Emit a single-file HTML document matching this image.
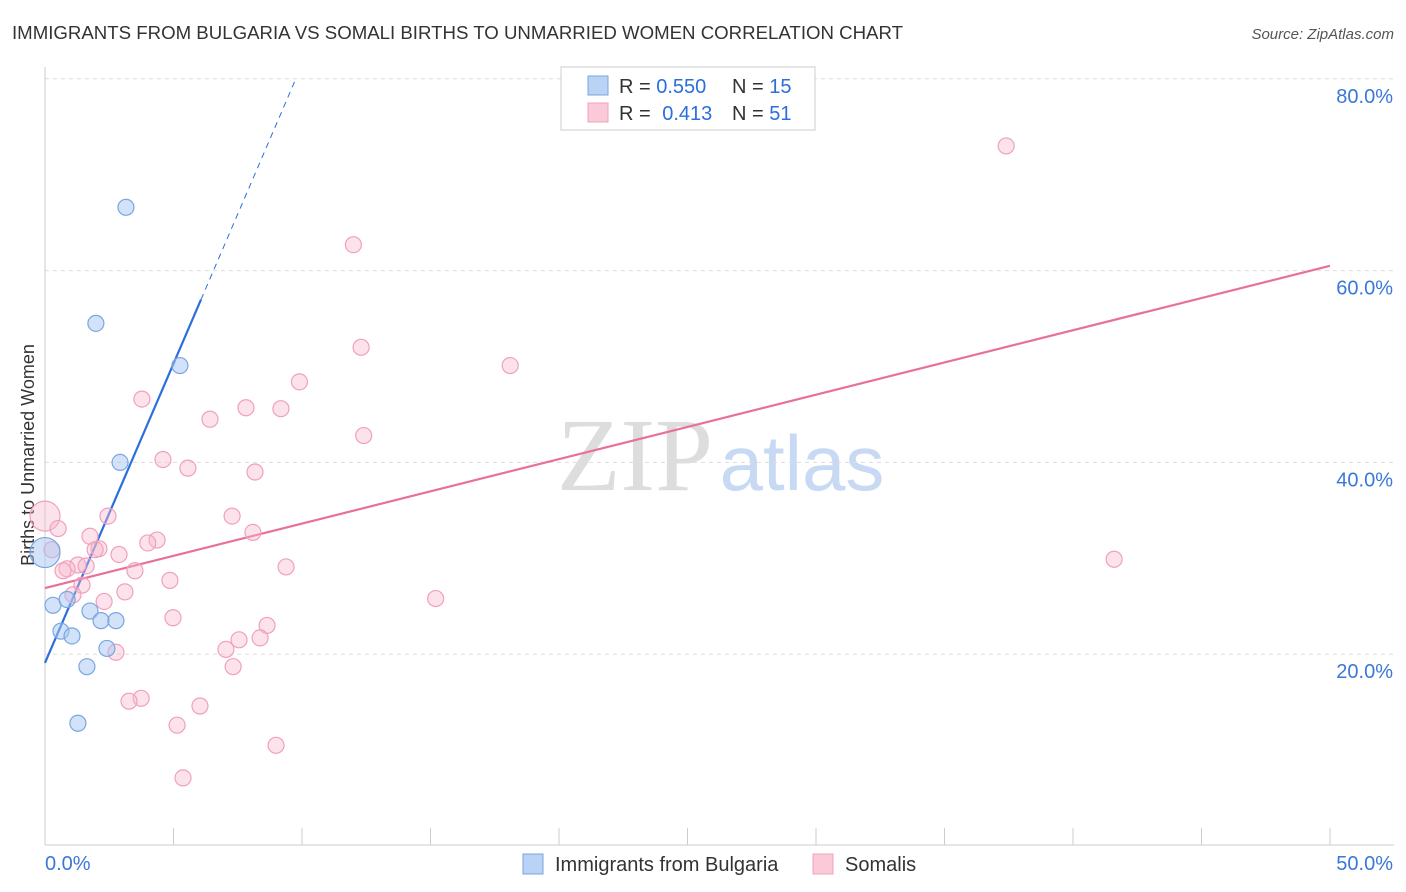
<!DOCTYPE html>
<html><head><meta charset="utf-8"><style>
body{margin:0;background:#fff;font-family:"Liberation Sans",sans-serif}
svg{display:block}
</style></head><body>
<svg id="chart" width="1406" height="892">
<text x="12" y="39" font-size="18" fill="#333" textLength="891" lengthAdjust="spacingAndGlyphs">IMMIGRANTS FROM BULGARIA VS SOMALI BIRTHS TO UNMARRIED WOMEN CORRELATION CHART</text>
<text x="1394" y="39" font-size="15" fill="#555" font-style="italic" text-anchor="end">Source: ZipAtlas.com</text>
<text x="34" y="455" font-size="18" fill="#333" text-anchor="middle" transform="rotate(-90 34 455)">Births to Unmarried Women</text>
<g>
<text x="635" y="490" font-size="104" fill="#ddd" font-family="Liberation Serif,serif" text-anchor="middle">ZIP</text>
<text x="802" y="490" font-size="78" fill="#c8daf3" text-anchor="middle">atlas</text>
</g>
<g id="grid"></g><g id="axes"></g><g id="lines"></g><g id="pts"></g>
<g>
<rect x="561" y="67" width="254" height="63" fill="#fff" stroke="#ccc"/>
<rect x="588" y="76" width="20" height="19" fill="#b9d3f5" stroke="#7aa6e0"/>
<rect x="588" y="103" width="20" height="19" fill="#fbcad9" stroke="#f0a0bc"/>
<text x="619" y="93" font-size="20" fill="#333">R = <tspan fill="#2a6fdb">0.550</tspan></text>
<text x="732" y="93" font-size="20" fill="#333">N = <tspan fill="#2a6fdb">15</tspan></text>
<text x="619" y="120" font-size="20" fill="#333">R = <tspan fill="#2a6fdb" dx="6">0.413</tspan></text>
<text x="732" y="120" font-size="20" fill="#333">N = <tspan fill="#2a6fdb">51</tspan></text>
</g>
<g>
<rect x="523" y="854" width="20" height="20" fill="#b9d3f5" stroke="#7aa6e0"/>
<text x="555" y="871" font-size="20" fill="#333">Immigrants from Bulgaria</text>
<rect x="813" y="854" width="20" height="20" fill="#fbcad9" stroke="#f0a0bc"/>
<text x="845" y="871" font-size="20" fill="#333">Somalis</text>
</g>
</svg>
<script>
const yTicks=[20,40,60,80];
const xTickLabels=["0.0%","50.0%"];
const blueX=[3.15,1.98,5.25,2.92,0,0.31,0.86,0.62,1.05,1.75,2.18,2.76,2.41,1.63,1.28];
const blueY=[66.6,54.5,50.1,40.0,30.6,25.1,25.7,22.4,21.9,24.5,23.5,23.5,20.6,18.7,12.8];
const blueR=[8,8,8,8,15,8,8,8,8,8,8,8,8,8,8];
const pinkX=[37.4,12.0,12.3,18.1,9.9,3.77,7.82,9.18,6.42,12.4,4.59,5.56,8.17,0,2.45,7.28,0.51,8.09,1.75,4.36,4.0,0.27,2.1,1.95,2.88,41.6,1.28,1.6,9.38,0.86,0.7,3.5,4.86,1.44,3.11,1.09,2.3,15.2,4.98,8.64,7.55,8.37,7.04,2.76,7.32,3.74,3.27,6.03,5.14,8.99,5.37];
const pinkY=[73.0,62.7,52.0,50.1,48.4,46.6,45.7,45.6,44.5,42.8,40.3,39.4,39.0,34.4,34.4,34.4,33.1,32.7,32.3,31.9,31.6,30.9,31.0,30.9,30.4,29.9,29.3,29.2,29.1,28.9,28.7,28.7,27.7,27.2,26.5,26.2,25.5,25.8,23.8,23.0,21.5,21.7,20.5,20.2,18.7,15.4,15.1,14.6,12.6,10.5,7.1];
const blueTrend=[19.1,6.24,6.07,9.76];
const pinkTrend=[26.9,60.5];
const X=v=>45+v*25.7, Y=v=>846-v*9.59;
const NS="http://www.w3.org/2000/svg";
function mk(t,a,p){const e=document.createElementNS(NS,t);for(const k in a)e.setAttribute(k,a[k]);p.appendChild(e);return e;}
const grid=document.getElementById('grid'),axes=document.getElementById('axes'),lines=document.getElementById('lines'),pts=document.getElementById('pts');
yTicks.forEach(t=>{
 const g=mk('line',{x1:45,x2:1394,y1:Y(t),y2:Y(t),stroke:'#ddd','stroke-dasharray':'4,4'},grid);
 
 
 const l=mk('text',{x:1393,y:Y(t)+24,'font-size':20,fill:'#3a78d8','text-anchor':'end'},axes);
 l.textContent=t.toFixed(1)+'%';
 
 
});
const ax=mk('line',{x1:45,x2:1394,y1:845,y2:845,stroke:'#ccc'},axes);


const ay=mk('line',{x1:45,x2:45,y1:67,y2:845,stroke:'#ccc'},axes);


for(let i=0;i<=10;i++){const tk=mk('line',{x1:X(i*5),x2:X(i*5),y1:828,y2:845,stroke:'#ccc'},axes);
 
 }
const xl0=mk('text',{x:45,y:870,'font-size':20,fill:'#3a78d8'},axes);xl0.textContent=xTickLabels[0];


const xl1=mk('text',{x:1393,y:870,'font-size':20,fill:'#3a78d8','text-anchor':'end'},axes);xl1.textContent=xTickLabels[1];


const bl=v=>blueTrend[0]+blueTrend[1]*v;
const b1=mk('line',{x1:X(0),y1:Y(bl(0)),x2:X(blueTrend[2]),y2:Y(bl(blueTrend[2])),stroke:'#2a6fdb','stroke-width':2.2},lines);


const b2=mk('line',{x1:X(blueTrend[2]),y1:Y(bl(blueTrend[2])),x2:X(blueTrend[3]),y2:Y(bl(blueTrend[3])),stroke:'#2a6fdb','stroke-width':1,'stroke-dasharray':'6,5'},lines);


const p1=mk('line',{x1:X(0),y1:Y(pinkTrend[0]),x2:X(50),y2:Y(pinkTrend[1]),stroke:'#e8709a','stroke-width':2.2},lines);


pinkX.forEach((x,i)=>{const c=mk('circle',{cx:X(x),cy:Y(pinkY[i]),r:x===0?15:8,fill:'rgba(248,185,205,0.4)',stroke:'#f0a0bc','stroke-width':1.2},pts);
 
 });
blueX.forEach((x,i)=>{const c=mk('circle',{cx:X(x),cy:Y(blueY[i]),r:blueR[i],fill:'rgba(165,198,242,0.5)',stroke:'#7aa6e0','stroke-width':1.2},pts);
 
 });
</script>
</body></html>
